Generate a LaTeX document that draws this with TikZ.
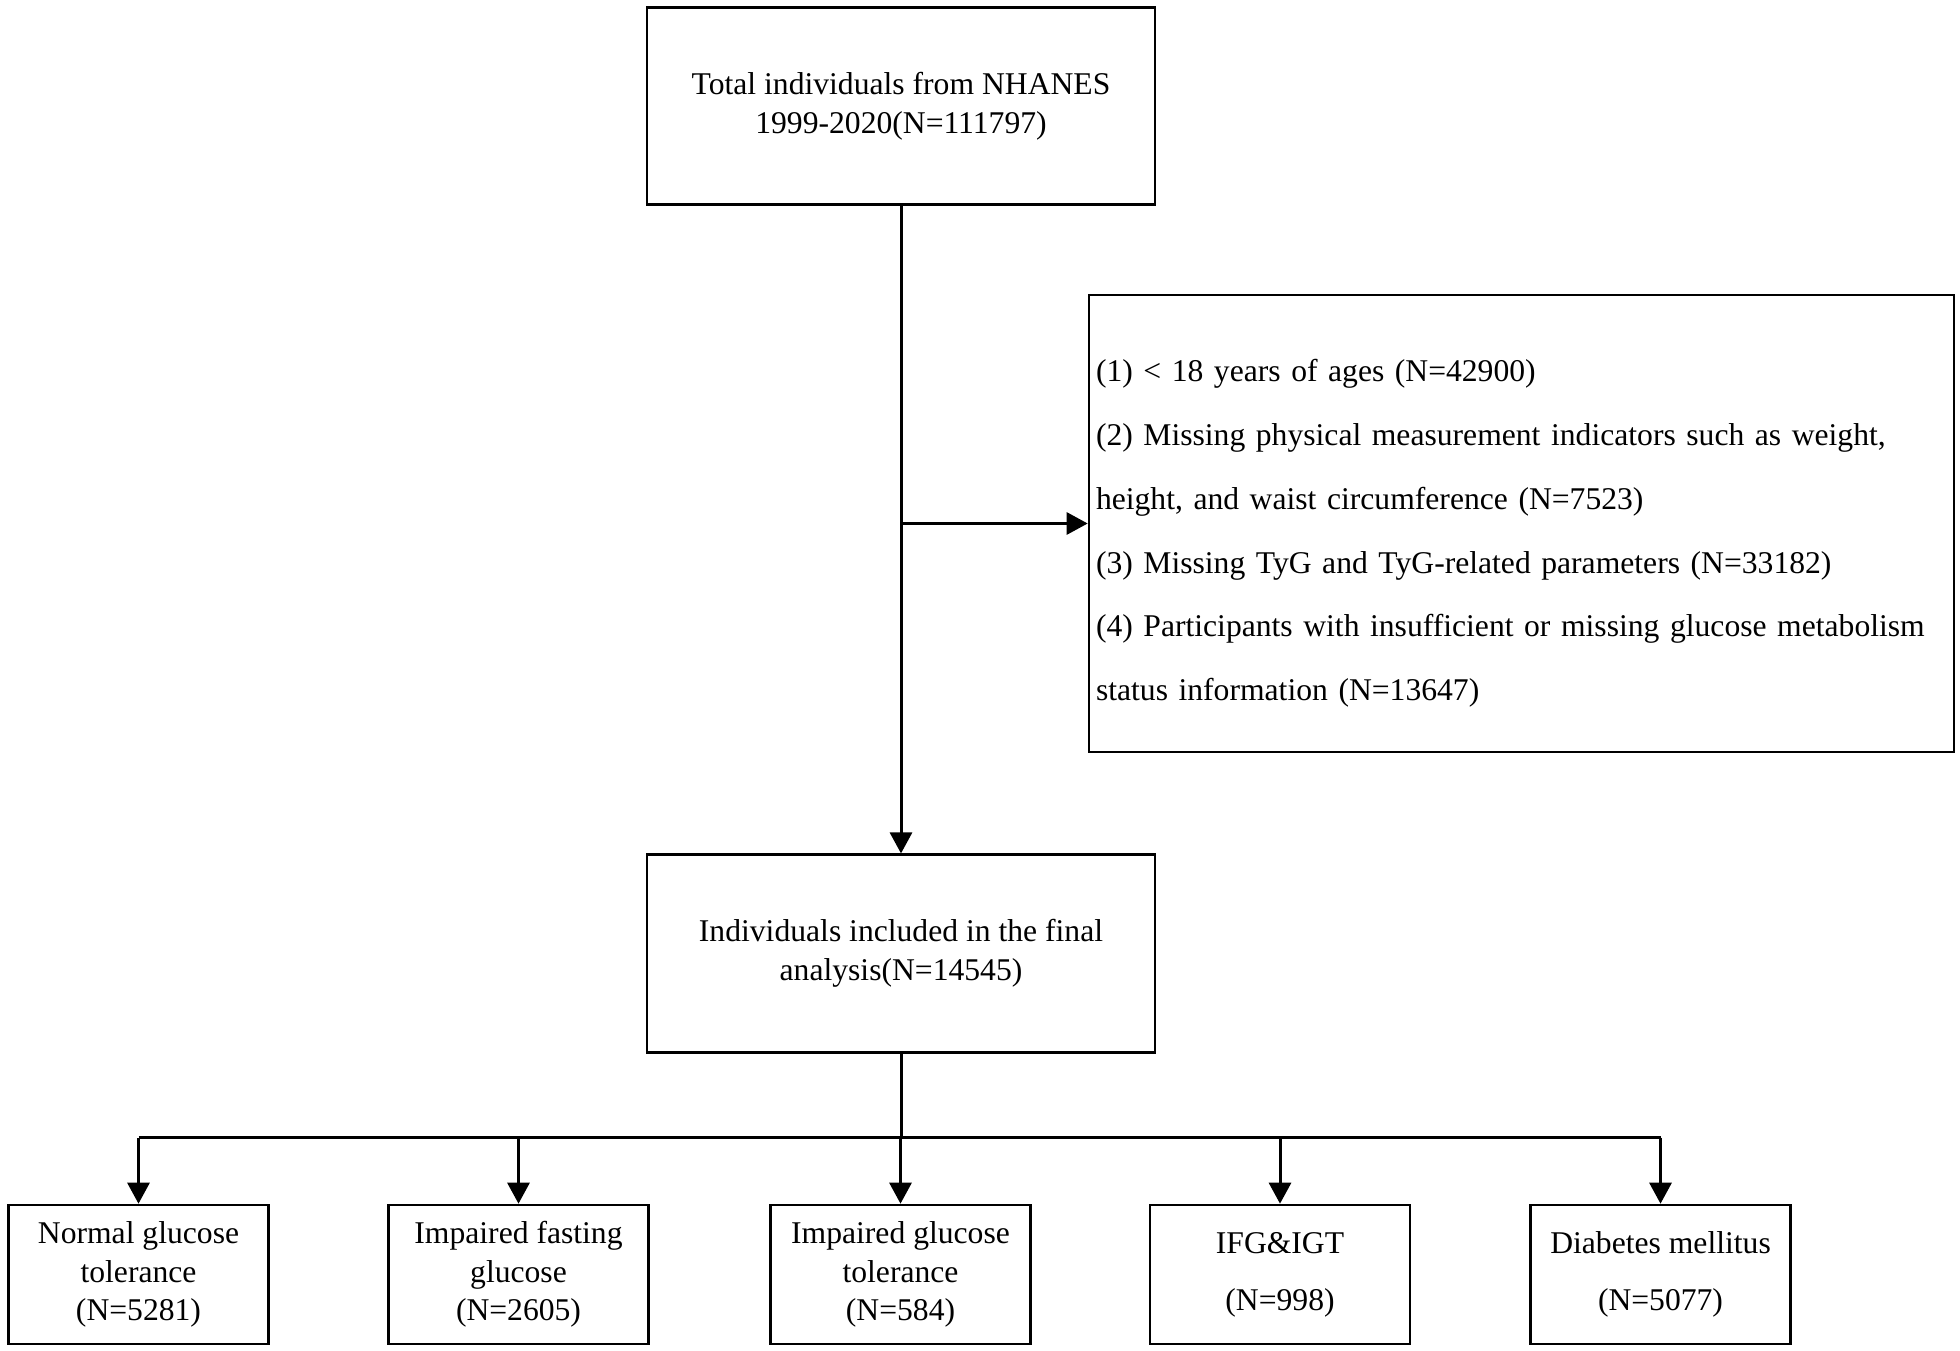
\documentclass[tikz,border=0pt]{standalone}
\usepackage{fontspec}
\setmainfont{Liberation Serif}
\usetikzlibrary{arrows.meta,positioning,calc}

\begin{document}
\begin{tikzpicture}[
    box/.style={draw, line width=0.75pt, minimum width=5.08cm, minimum height=1.975cm, align=center, inner sep=0pt, font=\fontsize{9}{11}\selectfont},
    groupbox/.style={draw, line width=0.75pt, minimum width=2.6cm, minimum height=1.39cm, align=center, inner sep=0pt, font=\fontsize{9}{11}\selectfont},
    exclbox/.style={draw, line width=0.75pt, minimum height=4.57cm, text width=8.51cm, align=left, inner xsep=0.07cm, inner ysep=0pt, font=\fontsize{9}{18.2}\selectfont},
    flow/.style={line width=0.85pt, -{Triangle[length=2.1mm,width=2.2mm]}},
    link/.style={line width=0.85pt},
    bar/.style={line width=1pt}
]
\useasboundingbox (0,0) rectangle (19.6,13.5);

% Cohort and analysis boxes
\node[box] (total) at (9.01, 12.44) {Total individuals from NHANES\\1999-2020(N=111797)};
\node[box] (mid) at (9.01, 3.965) {Individuals included in the final\\analysis(N=14545)};

% Exclusions
\node[exclbox] (excl) at (15.215, 8.265) {\rule{0pt}{11.9pt}(1) < 18 years of ages (N=42900)\\
(2) Missing physical measurement indicators such as weight,\\
height, and waist circumference (N=7523)\\
(3) Missing TyG and TyG-related parameters (N=33182)\\
(4) Participants with insufficient or missing glucose metabolism\\
status information (N=13647)};

% Glucose metabolism groups
\node[groupbox] (ngt) at (1.385, 0.755) {Normal glucose\\tolerance\\(N=5281)};
\node[groupbox] (ifg) at (5.185, 0.755) {Impaired fasting\\glucose\\(N=2605)};
\node[groupbox] (igt) at (9.005, 0.755) {Impaired glucose\\tolerance\\(N=584)};
\node[groupbox] (both) at (12.80, 0.755) {IFG\&IGT\\[5.2pt](N=998)};
\node[groupbox] (dm) at (16.605, 0.755) {Diabetes mellitus\\[5.2pt](N=5077)};

% Connectors
\draw[flow] (total) -- (mid);
\coordinate (branch) at (total.south |- excl.west);
\draw[flow] (branch) -- (excl.west);

\coordinate (split) at ($(mid.south)+(0,-0.84)$);
\draw[link] (mid.south) -- (split);
\draw[bar] (ngt.north |- split) -- (dm.north |- split);
\draw[flow] (ngt.north |- split) -- (ngt.north);
\draw[flow] (ifg.north |- split) -- (ifg.north);
\draw[flow] (igt.north |- split) -- (igt.north);
\draw[flow] (both.north |- split) -- (both.north);
\draw[flow] (dm.north |- split) -- (dm.north);

\end{tikzpicture}
\end{document}
